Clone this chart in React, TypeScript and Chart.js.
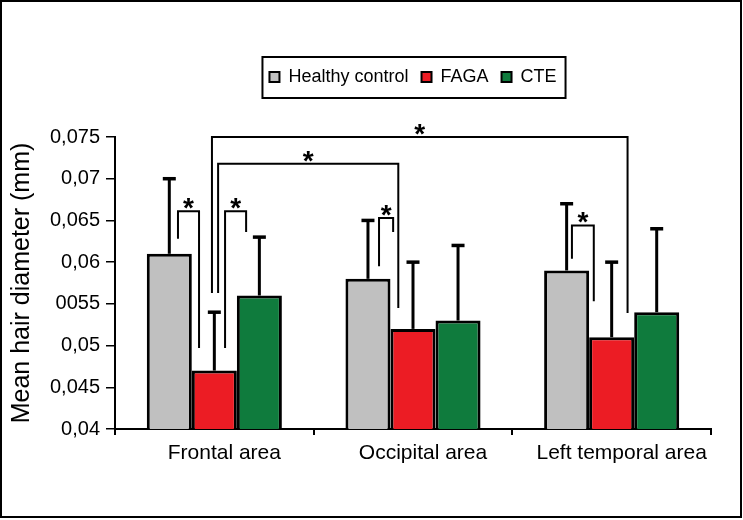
import React, { useEffect, useRef } from 'react';
import { Chart, registerables } from 'chart.js';

Chart.register(...registerables);

const categories = ['Frontal area', 'Occipital area', 'Left temporal area'];
const seriesNames = ['Healthy control', 'FAGA', 'CTE'];
const seriesColors = ['#c0c0c0', '#ec1c24', '#0f7b3d'];
const healthyMeans = [0.061, 0.058, 0.059];
const healthyErrors = [0.009, 0.007, 0.008];
const fagaMeans = [0.047, 0.052, 0.051];
const fagaErrors = [0.007, 0.008, 0.009];
const cteMeans = [0.056, 0.053, 0.054];
const cteErrors = [0.007, 0.009, 0.010];
const yTickValues = [0.04, 0.045, 0.05, 0.055, 0.06, 0.065, 0.07, 0.075];
const yTickLabels = ['0,04', '0,045', '0,05', '0055', '0,06', '0,065', '0,07', '0,075'];

// significance brackets: x in category units, heights in mm
const bracketLeftX = [-0.183, 0.054, 0.019, -0.012, 0.829, 1.8];
const bracketRightX = [-0.077, 0.16, 0.926, 2.08, 0.9, 1.91];
const bracketLeftLow = [0.0628, 0.0497, 0.0563, 0.0563, 0.0595, 0.0604];
const bracketTop = [0.0661, 0.0661, 0.0718, 0.075, 0.0653, 0.0644];
const bracketRightLow = [0.0497, 0.0636, 0.0545, 0.0539, 0.0636, 0.0553];
const bracketMarks = ['*', '*', '*', '*', '*', '*'];

const FONT = "'Liberation Sans', Arial, Helvetica, sans-serif";
const errorSets = [healthyErrors, fagaErrors, cteErrors];

const decorPlugin = {
  id: 'decor',
  beforeLayout(chart: any) {
    const lg = chart.legend;
    if (lg && !lg.__patched) {
      const orig = lg.fit;
      lg.fit = function () {
        orig.call(this);
        this.height = 82;
      };
      lg.__patched = true;
    }
  },
  beforeDraw(chart: any) {
    const ctx = chart.ctx;
    ctx.save();
    ctx.fillStyle = '#ffffff';
    ctx.fillRect(0, 0, chart.width, chart.height);
    ctx.restore();
    const lg = chart.legend;
    const ca = chart.chartArea;
    if (lg && ca) {
      lg.left = ca.left;
      lg.right = ca.right;
    }
  },
  afterDatasetsDraw(chart: any) {
    const ctx = chart.ctx;
    const ys = chart.scales.y;
    const xs = chart.scales.x;
    ctx.save();
    ctx.strokeStyle = '#000';
    ctx.lineCap = 'butt';
    chart.data.datasets.forEach((ds: any, di: number) => {
      const meta = chart.getDatasetMeta(di);
      meta.data.forEach((bar: any, i: number) => {
        const v = ds.data[i];
        const e = errorSets[di][i];
        const top = ys.getPixelForValue(v + e);
        ctx.lineWidth = 3;
        ctx.beginPath();
        ctx.moveTo(bar.x, bar.y);
        ctx.lineTo(bar.x, top);
        ctx.stroke();
        ctx.lineWidth = 3.5;
        ctx.beginPath();
        ctx.moveTo(bar.x - 6.5, top);
        ctx.lineTo(bar.x + 6.5, top);
        ctx.stroke();
      });
    });
    ctx.lineWidth = 2;
    ctx.lineJoin = 'miter';
    for (let i = 0; i < bracketLeftX.length; i++) {
      const xl = xs.getPixelForValue(bracketLeftX[i]);
      const xr = xs.getPixelForValue(bracketRightX[i]);
      const yl = ys.getPixelForValue(bracketLeftLow[i]);
      const yt = ys.getPixelForValue(bracketTop[i]);
      const yr = ys.getPixelForValue(bracketRightLow[i]);
      ctx.beginPath();
      ctx.moveTo(xl, yl);
      ctx.lineTo(xl, yt);
      ctx.lineTo(xr, yt);
      ctx.lineTo(xr, yr);
      ctx.stroke();
      ctx.fillStyle = '#000';
      ctx.font = `bold 28px ${FONT}`;
      ctx.textAlign = 'center';
      ctx.textBaseline = 'alphabetic';
      ctx.fillText(bracketMarks[i], (xl + xr) / 2, yt - 10 + 16);
    }
    ctx.restore();
  },
  afterDraw(chart: any) {
    const ctx = chart.ctx;
    ctx.save();
    ctx.strokeStyle = '#000';
    const lg = chart.legend;
    if (lg && lg.lineWidths) {
      const pad = 13;
      const startX = (lg.left + pad + lg.right - lg.lineWidths[0]) / 2;
      const endX = startX + lg.lineWidths[0] - pad;
      ctx.lineWidth = 2;
      ctx.strokeRect(startX - 7, lg.top + 2, endX - startX + 16, 41);
    }
    ctx.lineWidth = 2;
    ctx.strokeRect(1, 1, chart.width - 3, chart.height - 4);
    ctx.restore();
  },
};

export default function App() {
  const ref = useRef<HTMLCanvasElement | null>(null);
  useEffect(() => {
    document.body.style.margin = '0';
    const canvas = ref.current;
    if (!canvas) return;
    const means = [healthyMeans, fagaMeans, cteMeans];
    const chart = new Chart(canvas, {
      type: 'bar',
      data: {
        labels: categories,
        datasets: seriesNames.map((name, i) => ({
          label: name,
          data: means[i],
          backgroundColor: seriesColors[i],
          borderColor: '#000',
          borderWidth: 3,
          borderSkipped: false,
          categoryPercentage: 0.68,
          barPercentage: 1.0,
        })),
      },
      options: {
        responsive: false,
        animation: false,
        devicePixelRatio: 1,
        layout: { padding: { top: 55, left: 0, right: 32, bottom: 0 } },
        plugins: {
          tooltip: { enabled: false },
          legend: {
            position: 'top',
            labels: {
              color: '#000',
              font: { family: FONT, size: 18 },
              boxWidth: 10,
              boxHeight: 10,
              padding: 13,
              generateLabels: (c: any) => {
                const items = Chart.defaults.plugins.legend.labels.generateLabels(c);
                return items.map((it: any) => ({ ...it, lineWidth: 2 }));
              },
            },
          },
        },
        scales: {
          x: {
            offset: true,
            grid: {
              offset: true,
              drawOnChartArea: false,
              drawTicks: true,
              tickLength: 6,
              color: '#000',
              lineWidth: 2,
            },
            border: { display: true, color: '#000', width: 2 },
            ticks: {
              color: '#000',
              font: { family: FONT, size: 21 },
              padding: 6,
              labelOffset: 10,
              maxRotation: 0,
              autoSkip: false,
            },
            afterFit: (s: any) => {
              s.height = 91;
            },
          },
          y: {
            min: 0.04,
            max: 0.075,
            afterBuildTicks: (s: any) => {
              s.ticks = yTickValues.map((v) => ({ value: v }));
            },
            grid: {
              drawOnChartArea: false,
              drawTicks: true,
              tickLength: 9,
              color: '#000',
              lineWidth: 1.5,
            },
            border: { display: true, color: '#000', width: 2 },
            ticks: {
              color: '#000',
              font: { family: FONT, size: 20 },
              padding: 6,
              callback: (_v: any, i: number) => yTickLabels[i],
            },
            title: {
              display: true,
              text: 'Mean hair diameter (mm)',
              color: '#000',
              font: { family: FONT, size: 25 },
              padding: { top: 7, bottom: 0 },
            },
            afterFit: (s: any) => {
              s.width = 115;
            },
          },
        },
      },
      plugins: [decorPlugin],
    });
    return () => chart.destroy();
  }, []);
  return <canvas ref={ref} width={743} height={520} style={{ display: 'block' }} />;
}
